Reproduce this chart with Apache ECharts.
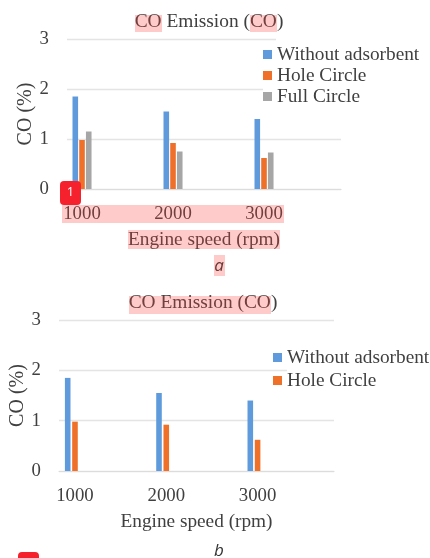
<!DOCTYPE html>
<html><head><meta charset="utf-8">
<style>html,body{margin:0;padding:0;background:#fff}#c{width:430px;height:558px}</style>
<script src="https://cdn.jsdelivr.net/npm/echarts@6/dist/echarts.min.js"></script>
</head><body><div id="c"></div>
<script>
const speeds = [1000, 2000, 3000];
const yTicks = [0, 1, 2, 3];
const withoutA = [1.85, 1.55, 1.40];
const holeA = [0.98, 0.92, 0.62];
const fullA = [1.15, 0.75, 0.73];
const withoutB = [1.85, 1.55, 1.40];
const holeB = [0.98, 0.92, 0.62];
const fullB = [null, null, null];
const titleText = 'CO Emission (CO)';
const xName = 'Engine speed (rpm)';
const yName = 'CO (%)';

const SERIF = '"Liberation Serif"';
const TXT = '#404040';
const BLUE = '#5f9bdc', ORANGE = '#ef7029', GRAY = '#a6a6a6';
const pairs = (vals) => vals.map((v, i) => [speeds[i], v]);

function xAxis(idx, min, max) {
  return {
    type: 'value', gridIndex: idx, min, max, containShape: false,
    position: 'bottom',
    name: xName, nameLocation: 'middle', nameGap: 41, nameMoveOverlap: false,
    nameTextStyle: { fontFamily: SERIF, fontSize: 19.3, color: TXT },
    axisLine: { show: true, onZero: false, lineStyle: { color: '#dcdcdc', width: 1.2 } },
    axisTick: { show: false },
    splitLine: { show: false },
    axisLabel: {
      customValues: speeds, formatter: (v) => String(v),
      fontFamily: SERIF, fontSize: 18.8, color: TXT, margin: 15.5
    }
  };
}
function yAxis(idx, gap) {
  return {
    type: 'value', gridIndex: idx, min: 0, max: 3, interval: 1,
    name: yName, nameLocation: 'middle', nameGap: gap, nameRotate: 90, nameMoveOverlap: false,
    nameTextStyle: { fontFamily: SERIF, fontSize: 20, color: TXT },
    axisLine: { show: false }, axisTick: { show: false },
    splitLine: { show: true, lineStyle: { color: '#e4e4e4', width: 1.4 } },
    axisLabel: {
      formatter: (v) => yTicks.includes(v) ? String(v) : '',
      fontFamily: SERIF, fontSize: 18.8, color: TXT, margin: 18
    }
  };
}
function bar(name, color, idx, vals, gap) {
  return {
    type: 'bar', name, xAxisIndex: idx, yAxisIndex: idx,
    data: pairs(vals), barWidth: 5.6, barGap: gap,
    itemStyle: { color }, silent: true, animation: false
  };
}
function legend(left, top, items, gap) {
  return {
    orient: 'vertical', left, top, data: items, itemWidth: 9, itemHeight: 9, itemGap: gap,
    padding: 0, selectedMode: false, icon: 'rect',
    textStyle: { fontFamily: SERIF, fontSize: 19.3, color: TXT }
  };
}
function title(text, x, y) {
  return { text, left: x, top: y, textAlign: 'center', padding: 0,
    textStyle: { fontFamily: SERIF, fontSize: 19.4, fontWeight: 'normal', color: TXT } };
}
const hl = (x, y, w, h) => ({ type: 'rect', z: 50, shape: { x, y, width: w, height: h },
  style: { fill: 'rgba(250,60,60,0.27)' } });
const white = (x, y, w, h) => ({ type: 'rect', z: 3, shape: { x, y, width: w, height: h },
  style: { fill: '#fff' } });
const cap = (text, x, y) => ({ type: 'text', z: 10, x, y,
  style: { text, fill: '#333', font: 'italic 17px "Open Sans"', align: 'center', verticalAlign: 'middle' } });

const chart = echarts.init(document.getElementById('c'), null, { renderer: 'canvas' });
chart.setOption({
  animation: false,
  backgroundColor: '#fff',
  title: [title(titleText, 209, 12), title(titleText, 203, 293)],
  grid: [
    { left: 67, top: 39, width: 274, height: 150, outerBoundsMode: 'none' },
    { left: 59, top: 320, width: 275, height: 151, outerBoundsMode: 'none' }
  ],
  xAxis: [xAxis(0, 835, 3846), xAxis(1, 825, 3837)],
  yAxis: [yAxis(0, 31), yAxis(1, 31)],
  legend: [
    legend(263, 45, ['Without adsorbent', 'Hole Circle', 'Full Circle'], 2),
    legend(273, 348, ['Without adsorbent', 'Hole Circle'], 4)
  ],
  series: [
    bar('Without adsorbent', BLUE, 0, withoutA, '20%'),
    bar('Hole Circle', ORANGE, 0, holeA, '20%'),
    bar('Full Circle', GRAY, 0, fullA, '20%'),
    bar('Without adsorbent', BLUE, 1, withoutB, '30%'),
    bar('Hole Circle', ORANGE, 1, holeB, '30%'),
    bar('Full Circle', GRAY, 1, fullB, '30%')
  ],
  graphic: [
    white(276, 36, 70, 6), white(263, 85, 80, 6), white(287, 367, 50, 6),
    cap('a', 219, 266), cap('b', 219, 551),
    hl(135, 15, 27, 17), hl(250, 15, 27, 17), hl(62, 205, 222, 18), hl(128, 230, 152, 19), hl(214, 255, 11, 21),
    hl(129, 296, 142, 18),
    { type: 'rect', z: 60, shape: { x: 60, y: 181, width: 21, height: 24, r: 4 }, style: { fill: '#f5222d' } },
    { type: 'text', z: 61, x: 70.5, y: 193, style: { text: '1', fill: '#fff', font: '12px "Noto Sans"', align: 'center', verticalAlign: 'middle' } },
    { type: 'rect', z: 60, shape: { x: 18, y: 552, width: 21, height: 24, r: 4 }, style: { fill: '#f5222d' } }
  ]
});
</script></body></html>
